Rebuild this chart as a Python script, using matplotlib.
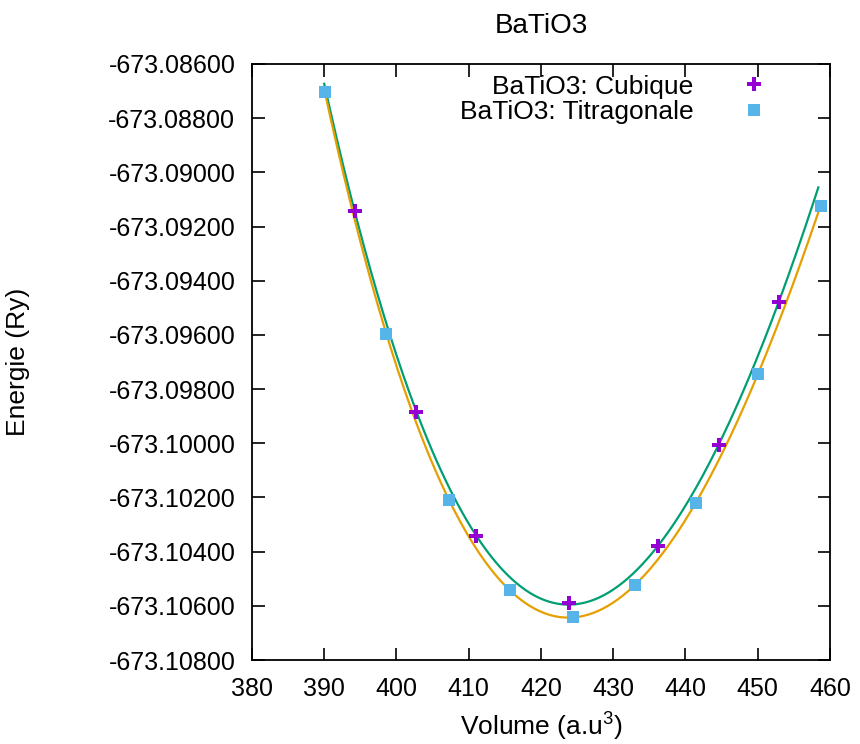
import numpy as np
import matplotlib
matplotlib.use("Agg")
import matplotlib.pyplot as plt

plt.rcParams["font.family"] = ["Liberation Sans", "DejaVu Sans"]
plt.rcParams["mathtext.fontset"] = "custom"
plt.rcParams["mathtext.rm"] = "Liberation Sans"

# données
vol_cub = [394.2, 402.75, 411.04, 423.83, 436.26, 444.64, 452.9]
e_cub = [-673.09141, -673.09883, -673.10344, -673.1059,
         -673.10378, -673.10006, -673.09478]
vol_tet = [390.08, 398.6, 407.25, 415.73, 424.38, 433.0, 441.5, 450.0, 458.7]
e_tet = [-673.08702, -673.09598, -673.10209, -673.10541, -673.10642,
         -673.10524, -673.10219, -673.09745, -673.09124]
xticks = [380, 390, 400, 410, 420, 430, 440, 450, 460]
yticks = [-673.108, -673.106, -673.104, -673.102, -673.100, -673.098,
          -673.096, -673.094, -673.092, -673.090, -673.088, -673.086]

fig = plt.figure(figsize=(8.6, 7.44), dpi=100)
ax = fig.add_axes([0.293, 0.1129, 0.672, 0.8011])

# ajustement polynomial E(V)
ref = -673.1
vc = np.linspace(390, 458.4, 300)
pc = np.polyfit(vol_cub, np.array(e_cub) - ref, 3)
vt = np.linspace(390, 458.7, 300)
pt = np.polyfit(vol_tet, np.array(e_tet) - ref, 3)

ax.plot(vc, np.polyval(pc, vc) + ref, color="#009e73", lw=1.6, zorder=3)
ax.plot(vt, np.polyval(pt, vt) + ref, color="#e69f00", lw=1.6, zorder=3)
ax.plot(vol_cub, e_cub, "P", color="#9400d3", ms=10, mew=0, ls="none",
        label="BaTiO3: Cubique", zorder=4)
ax.plot(vol_tet, e_tet, "s", color="#56b4e9", ms=9, mew=0, ls="none",
        label="BaTiO3: Titragonale", zorder=5)

ax.set_xlim(380, 460)
ax.set_ylim(-673.108, -673.086)
ax.set_xticks(xticks)
ax.set_yticks(yticks)
ax.set_yticklabels(["%.5f" % v for v in yticks])
ax.tick_params(direction="in", length=9, width=1.2, top=True, right=True,
               labelsize=18, pad=12)
for s in ax.spines.values():
    s.set_linewidth(1.3)

ax.set_title("BaTiO3", fontsize=20, pad=22)
ax.set_xlabel("Volume (a.u$^3$)", fontsize=19, labelpad=6)
ax.set_ylabel("Energie (Ry)", fontsize=19)
ax.yaxis.set_label_coords(-0.384, 0.5)

ax.legend(loc="upper right", frameon=False, markerfirst=False,
          fontsize=19, handletextpad=1.3, labelspacing=0.05,
          borderaxespad=0.0, bbox_to_anchor=(0.933, 1.0))

fig.savefig("out.png", dpi=100)
